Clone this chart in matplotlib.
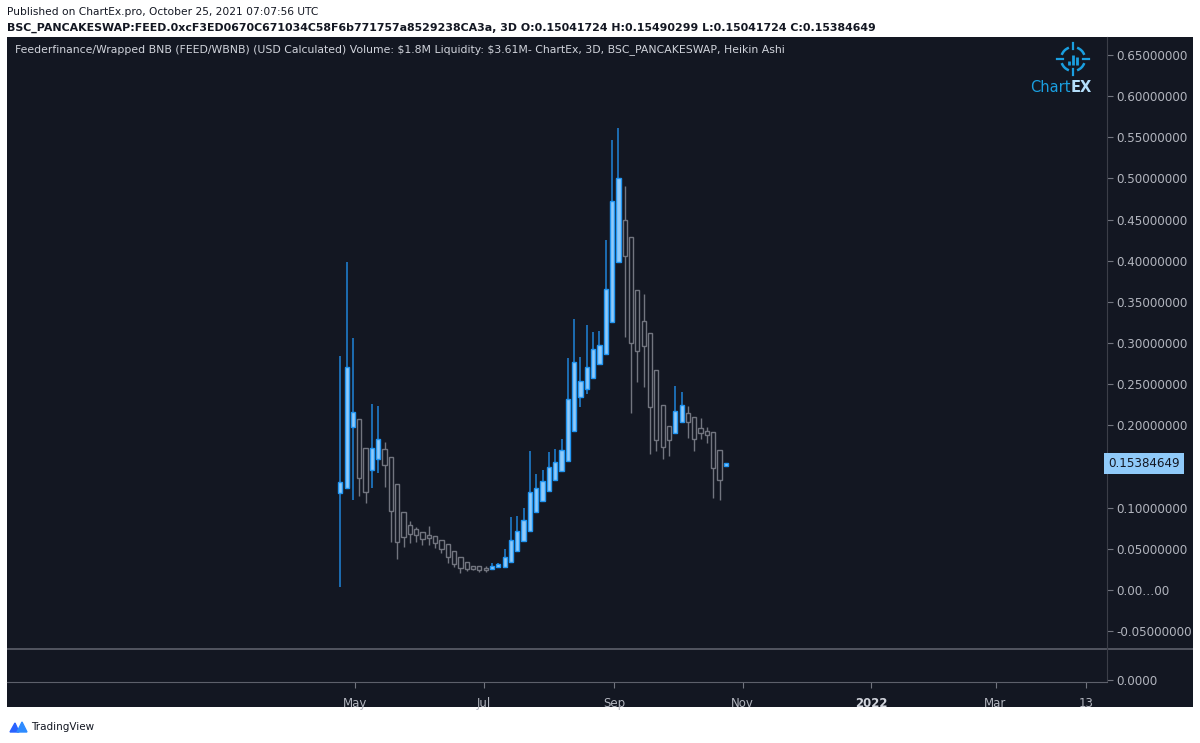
import datetime as dt
import numpy as np
import matplotlib
matplotlib.use('Agg')
import matplotlib.pyplot as plt
import matplotlib.dates as mdates
from matplotlib.patches import Arc
from matplotlib.transforms import blended_transform_factory

# ---- data: 3D Heikin Ashi candles FEED/WBNB (USD) ----
start = dt.date(2021, 4, 24)
n_candles = 62
dates = [start + dt.timedelta(days=3 * i) for i in range(n_candles)]
opens = [0.1182,0.1243,0.1981,0.2074,0.1722,0.1454,0.1588,0.1710,0.1612,0.1284,0.0944,0.0790,0.0738,0.0701,0.0665,0.0656,
         0.0608,0.0555,0.0478,0.0397,0.0337,0.0295,0.0288,0.0271,0.0252,0.0276,0.0283,0.0344,0.0478,0.0599,0.0721,0.0951,
         0.1085,0.1207,0.1337,0.1450,0.1571,0.1936,0.2349,0.2442,0.2580,0.2750,0.2864,0.3256,0.3982,0.4496,0.4286,0.3645,
         0.3272,0.3119,0.2673,0.2248,0.1996,0.1911,0.2045,0.2147,0.2098,0.1965,0.1936,0.1916,0.1701,0.15041724]
highs = [0.2843,0.3989,0.3058,0.2074,0.1722,0.2260,0.2232,0.1798,0.1612,0.1284,0.0944,0.0842,0.0769,0.0701,0.0778,0.0656,
         0.0608,0.0555,0.0478,0.0397,0.0337,0.0295,0.0288,0.0288,0.0328,0.0332,0.0495,0.0891,0.0899,0.0993,0.1693,0.1409,
         0.1458,0.1680,0.1710,0.1831,0.2815,0.3289,0.2827,0.3220,0.3139,0.3151,0.4253,0.5468,0.5610,0.4909,0.4286,0.3645,
         0.3597,0.3119,0.2673,0.2248,0.1996,0.2482,0.2409,0.2239,0.2098,0.2086,0.1984,0.1916,0.1701,0.15490299]
lows = [0.0040,0.1243,0.1094,0.1146,0.1053,0.1243,0.1425,0.1252,0.0587,0.0373,0.0526,0.0575,0.0583,0.0547,0.0547,0.0507,
        0.0453,0.0324,0.0283,0.0210,0.0231,0.0243,0.0222,0.0222,0.0252,0.0276,0.0283,0.0344,0.0478,0.0599,0.0721,0.0951,
        0.1085,0.1207,0.1337,0.1450,0.1571,0.1936,0.2227,0.2382,0.2580,0.2750,0.2864,0.3256,0.3982,0.3078,0.2154,0.2531,
        0.2463,0.1652,0.1693,0.1595,0.1628,0.1911,0.2045,0.1843,0.1693,0.1831,0.1790,0.1114,0.1094,0.15041724]
closes = [0.1309,0.2713,0.2166,0.1365,0.1194,0.1722,0.1831,0.1515,0.0960,0.0587,0.0640,0.0684,0.0665,0.0616,0.0628,0.0567,
          0.0495,0.0397,0.0316,0.0271,0.0252,0.0259,0.0243,0.0243,0.0292,0.0312,0.0397,0.0608,0.0721,0.0851,0.1194,0.1236,
          0.1328,0.1491,0.1559,0.1701,0.2317,0.2774,0.2543,0.2713,0.2925,0.2973,0.3654,0.4727,0.5002,0.4062,0.2998,0.2904,
          0.2965,0.2227,0.1823,0.1741,0.1823,0.2179,0.2248,0.2045,0.1831,0.1911,0.1880,0.1486,0.1337,0.15384649]
last_price = 0.15384649
price_ticks = [-0.05,0.0,0.05,0.10,0.15,0.20,0.25,0.30,0.35,0.40,0.45,0.50,0.55,0.60,0.65]
time_ticks = [dt.date(2021,5,1),dt.date(2021,7,1),dt.date(2021,9,1),dt.date(2021,11,1),dt.date(2022,1,1),dt.date(2022,3,1),dt.date(2022,4,13)]
time_labels = ['May','Jul','Sep','Nov','2022','Mar','13']

BG='#131722'; UPF='#90caf9'; UPE='#2196f3'; UPW='#1e73be'; DNE='#72757f'; TXT='#b2b5be'; LINE='#3b3e48'; SEP='#5d606b'
W,H=1200,743
def fr(x0,y0,x1,y1): return [x0/W, 1-y1/H, (x1-x0)/W, (y1-y0)/H]

fig=plt.figure(figsize=(12,7.43),dpi=100,facecolor='white')
bg=fig.add_axes(fr(7,37,1193,707)); bg.set_facecolor(BG); bg.set_xticks([]); bg.set_yticks([])
bg.set_xlim(7,1193); bg.set_ylim(707,37)
for s in bg.spines.values(): s.set_visible(False)
bg.plot([7,1193],[649,649],color=SEP,lw=1.2)   # pane separator runs into the price scale
bg.set_zorder(-5)

ax=fig.add_axes(fr(7,37,1107,649)); ax.set_facecolor('none')
x=mdates.date2num(dates); o=np.array(opens); h=np.array(highs); l=np.array(lows); c=np.array(closes)
up=c>=o
ax.vlines(x[up],l[up],h[up],color=UPW,lw=1.3,zorder=2)
ax.vlines(x[~up],l[~up],h[~up],color=DNE,lw=1.0,zorder=2)
bw=2.0
ax.bar(x[up],(c-o)[up],bottom=o[up],width=bw,color=UPF,edgecolor=UPE,lw=1.0,zorder=3)
ax.bar(x[~up],(c-o)[~up],bottom=o[~up],width=bw,color=BG,edgecolor=DNE,lw=1.0,zorder=3)

x0=mdates.date2num(start)
ax.set_xlim(x0-158.2,x0+363.9)
ax.set_ylim(-0.0717,0.6719)
ax.yaxis.tick_right()
ax.set_yticks(price_ticks)
# the 0.15 label sits under the last-price box, as in TradingView
ax.set_yticklabels(['0.00…00' if abs(v)<1e-9 else ('' if abs(v-0.15)<1e-9 else '%.8f'%v) for v in price_ticks])
ax.tick_params(axis='y',colors=DNE,labelcolor=TXT,labelsize=8.6,length=4,pad=3)
ax.set_xticks([])
for s in ['top','left','bottom']: ax.spines[s].set_visible(False)
ax.spines['right'].set_color(LINE)

# last price label
tr=blended_transform_factory(ax.transAxes,ax.transData)
ax.text(1.001,last_price,'%.8f'%last_price,transform=tr,ha='left',va='center',fontsize=8.6,color=BG,
        bbox=dict(boxstyle='square,pad=0.32',fc=UPF,ec='none'),clip_on=False,zorder=5)

# second (empty) pane + time axis
ax2=fig.add_axes(fr(7,649,1107,682)); ax2.set_facecolor('none')
ax2.set_xlim(ax.get_xlim()); ax2.set_ylim(0,1)
ax2.yaxis.tick_right(); ax2.set_yticks([0.06]); ax2.set_yticklabels(['0.0000'])
ax2.tick_params(axis='y',colors=DNE,labelcolor=TXT,labelsize=8.6,length=4,pad=3)
tt=mdates.date2num(time_ticks)
ax2.set_xticks(tt); ax2.set_xticklabels(time_labels)
ax2.tick_params(axis='x',colors=DNE,labelcolor=TXT,labelsize=8.5,length=4,pad=7)
for lab in ax2.get_xticklabels():
    if lab.get_text()=='2022': lab.set_fontweight('bold'); lab.set_color('#d1d4dc')
for s in ['top','left']: ax2.spines[s].set_visible(False)
ax2.spines['right'].set_color(LINE); ax2.spines['bottom'].set_color(SEP)

# header texts
fig.text(7/W,1-12/H,'Published on ChartEx.pro, October 25, 2021 07:07:56 UTC',fontsize=7.7,color='#131722',va='center')
fig.text(7/W,1-28/H,'BSC_PANCAKESWAP:FEED.0xcF3ED0670C671034C58F6b771757a8529238CA3a, 3D O:0.15041724 H:0.15490299 L:0.15041724 C:0.15384649',
         fontsize=7.9,fontweight='bold',color='#131722',va='center')
fig.text(15/W,1-50/H,'Feederfinance/Wrapped BNB (FEED/WBNB) (USD Calculated) Volume: \\$1.8M Liquidity: \\$3.61M- ChartEx, 3D, BSC_PANCAKESWAP, Heikin Ashi',
         fontsize=7.8,color='#d1d4dc',va='center')

# ChartEx logo
lg=fig.add_axes(fr(1040,38,1105,100)); lg.set_xlim(0,65); lg.set_ylim(62,0); lg.axis('off')
LB='#1a9fe0'
for a1 in [20,110,200,290]:
    lg.add_patch(Arc((33,21),24,24,theta1=a1,theta2=a1+50,color=LB,lw=1.8))
for (xa,ya,xb,yb) in [(33,5,33,11),(33,31,33,37),(17,21,23,21),(43,21,49,21)]:
    lg.plot([xa,xb],[ya,yb],color=LB,lw=1.6)
for bx,bt in [(28.5,23),(32.5,17),(36.5,19)]:
    lg.plot([bx,bx],[bt,27],color=LB,lw=2.0,solid_capstyle='butt')
lg.text(31,50,'Chart',color=LB,fontsize=10.5,ha='right',va='center')
lg.text(31,50,'EX',color='#b4defa',fontsize=10.5,fontweight='bold',ha='left',va='center')

# TradingView mark
fig.text(31/W,1-727/H,'TradingView',fontsize=7.5,color='#131722',va='center')
tv=fig.add_axes(fr(9,720,28,734)); tv.set_xlim(0,19); tv.set_ylim(0,14); tv.axis('off')
tv.fill([1,6,10,6],[2,11,2,2],color='#2962ff'); tv.fill([8,13,18,13],[2,12,2,2],color='#2e8bff')

fig.savefig('out.png',dpi=100,facecolor='white')
